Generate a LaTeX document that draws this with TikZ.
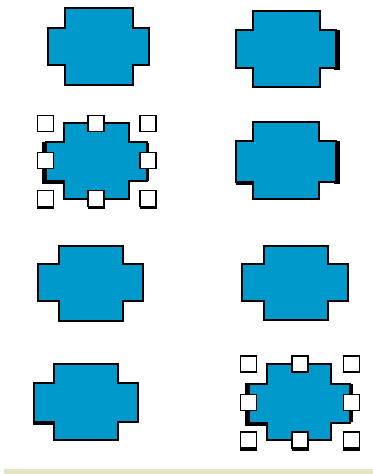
\documentclass[tikz,border=0pt]{standalone}
\usepackage{tikz}
\definecolor{crossblue}{RGB}{0,153,204}
\definecolor{bandkhaki}{RGB}{228,228,196}
\tikzset{
  crossfill/.style={fill=crossblue, draw=black, line width=1.5pt, line join=miter},
  shadowstrip/.style={fill=black, draw=none},
  handle/.style={rectangle, draw=black, fill=white, line width=1.4pt, minimum size=12pt, inner sep=0pt},
}
% #1 outer left, #2 inner left, #3 inner right, #4 outer right,
% #5 top, #6 arm top, #7 arm bottom, #8 bottom
\newcommand{\xcross}[8]{%
  \path[crossfill] (#2,#5) -- (#3,#5) -- (#3,#6) -- (#4,#6) -- (#4,#7) -- (#3,#7)
    -- (#3,#8) -- (#2,#8) -- (#2,#7) -- (#1,#7) -- (#1,#6) -- (#2,#6) -- cycle;}
\newcommand{\xhandles}[7]{% #1 prefix, #2 #3 #4 x, #5 #6 #7 y
  \foreach \hx in {#2,#3,#4} {\fill[black] (\hx-8.5,#7-6) rectangle (\hx+8.5,#7+10.5);}
  \node[handle] (#1tl) at (#2,#5) {};
  \node[handle] (#1tm) at (#3,#5) {};
  \node[handle] (#1tr) at (#4,#5) {};
  \node[handle] (#1ml) at (#2,#6) {};
  \node[handle] (#1mr) at (#4,#6) {};
  \node[handle] (#1bl) at (#2,#7) {};
  \node[handle] (#1bm) at (#3,#7) {};
  \node[handle] (#1br) at (#4,#7) {};}
\begin{document}
\begin{tikzpicture}[x=0.75pt,y=-0.75pt]
\useasboundingbox (0,0) rectangle (373,474);
\fill[white] (0,0) rectangle (373,474);
% bottom band
\fill[bandkhaki] (4,469) rectangle (373,474);

% shape 1 (top left)
\xcross{48}{65}{132.5}{149}{8}{28}{65.5}{85}

% shape 2 (top right) with shadow at right arm
\fill[shadowstrip] (334,30) rectangle (340,70);
\xcross{236}{252.5}{319.5}{336}{11}{30}{68}{87.5}

% shape 3 (selected, second row left)
\fill[shadowstrip] (42,142) rectangle (47,184);
\fill[shadowstrip] (42,178) rectangle (64,184);
\fill[shadowstrip] (144,143) rectangle (149,181);
\xcross{45.5}{63.5}{129}{146.5}{123}{142}{180.5}{199}
\xhandles{a}{45.5}{96}{148}{123.5}{160.5}{198.5}

% shape 4 (second row right) with shadow
\fill[shadowstrip] (334,141.5) rectangle (340,184);
\fill[shadowstrip] (236,180) rectangle (253,185);
\xcross{236}{252.5}{319}{336}{122.5}{141.5}{181.5}{199}

% shape 5 (third row left)
\xcross{38}{58.5}{122.5}{142.5}{246}{263.5}{301}{320.5}

% shape 6 (third row right)
\xcross{242}{263.5}{327.5}{347.5}{246}{263.5}{300.5}{320}

% shape 7 (bottom left) with shadow
\fill[shadowstrip] (33.5,418) rectangle (54,425);
\fill[shadowstrip] (32.5,383) rectangle (35,425);
\xcross{33.5}{53.5}{117.5}{137.5}{363.5}{382.5}{421.5}{440}

% shape 8 (selected, bottom right)
\fill[shadowstrip] (245,383) rectangle (250,426);
\fill[shadowstrip] (245,420) rectangle (267,426);
\fill[shadowstrip] (348,384) rectangle (353,422);
\xcross{248.5}{267}{331}{350}{363.5}{383.5}{422.5}{440}
\xhandles{b}{248.5}{300}{351.5}{364}{402.5}{440}
\end{tikzpicture}
\end{document}
